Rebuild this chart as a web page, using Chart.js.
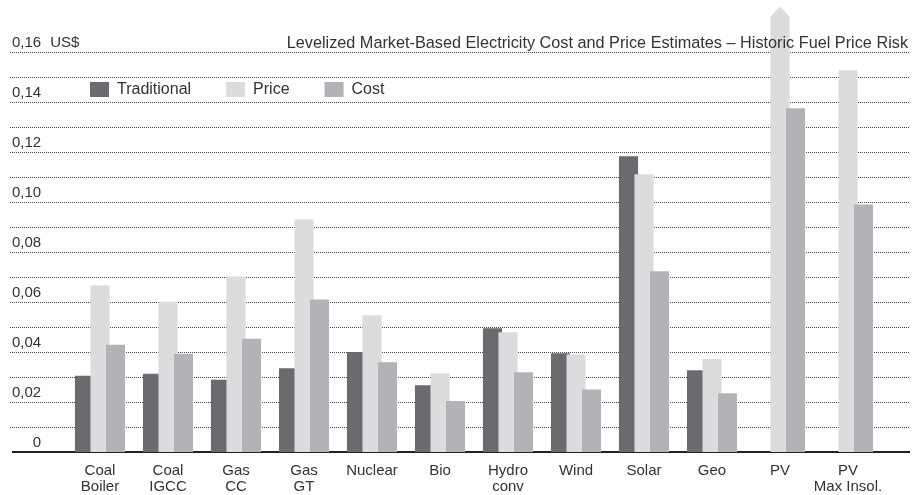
<!DOCTYPE html>
<html lang="en">

<head>
  <meta charset="UTF-8" />
  <title>Levelized Market-Based Electricity Cost and Price Estimates</title>
  <style>
    * {
      box-sizing: border-box;
      margin: 0;
      padding: 0;
    }

    html,
    body {
      width: 924px;
      height: 495px;
      background: #fff;
      overflow: hidden;
    }

    #wrap {
      position: relative;
      width: 924px;
      height: 495px;
    }
  </style>
  <script src="https://cdn.jsdelivr.net/npm/chart.js@4/dist/chart.umd.min.js"></script>
</head>

<body>
  <div id="wrap"><canvas id="chart"></canvas></div>

  <script>
    // Data
    const title = 'Levelized Market-Based Electricity Cost and Price Estimates – Historic Fuel Price Risk';
    const categories = [['Coal', 'Boiler'], ['Coal', 'IGCC'], ['Gas', 'CC'], ['Gas', 'GT'], 'Nuclear', 'Bio',
      ['Hydro', 'conv'], 'Wind', 'Solar', 'Geo', 'PV', ['PV', 'Max Insol.']];
    const traditional = [0.0305, 0.0313, 0.0289, 0.0335, 0.0400, 0.0267, 0.0495, 0.0395, 0.1183, 0.0327, null, null];
    const price = [0.0666, 0.0601, 0.0702, 0.0930, 0.0547, 0.0315, 0.0479, 0.0390, 0.1111, 0.0372, 0.1744, 0.1527];
    const cost = [0.0429, 0.0393, 0.0453, 0.0610, 0.0359, 0.0204, 0.0319, 0.0250, 0.0723, 0.0235, 0.1375, 0.0990];
    const yTickValues = [0, 0.02, 0.04, 0.06, 0.08, 0.10, 0.12, 0.14, 0.16];
    const yTickLabels = ['0', '0,02', '0,04', '0,06', '0,08', '0,10', '0,12', '0,14', '0,16'];
    const yUnit = 'US$';
    const yGridStep = 0.01;
    const yTop = 0.16;
    const offScale = ['PV']; // its Price bar runs past the top of the axis

    const FONT = '"Liberation Sans", Arial, Helvetica, sans-serif';
    const TEXT = '#333';

    // dotted grid, base line, re-ordered bars, arrow tip, unit, title, legend
    const decor = {
      id: 'decor',
      beforeDatasetsDraw(chart) {
        const { ctx, scales: { y } } = chart;
        ctx.save();
        ctx.strokeStyle = '#444';
        ctx.lineWidth = 1;
        ctx.setLineDash([1, 1]);
        for (let i = 1; i * yGridStep <= yTop + 1e-9; i++) {
          const py = Math.round(y.getPixelForValue(i * yGridStep)) + 0.5;
          ctx.beginPath();
          ctx.moveTo(10, py);
          ctx.lineTo(910, py);
          ctx.stroke();
        }
        ctx.setLineDash([]);
        ctx.strokeStyle = '#222';
        ctx.lineWidth = 2;
        const p0 = y.getPixelForValue(0);
        ctx.beginPath();
        ctx.moveTo(12, p0);
        ctx.lineTo(910, p0);
        ctx.stroke();
        ctx.restore();
      },
      // let later series overlap earlier ones, as in the print
      beforeDatasetDraw() {
        return false;
      },
      afterDatasetsDraw(chart) {
        const { ctx, scales: { y } } = chart;
        chart.data.datasets.forEach((ds, i) => chart.getDatasetMeta(i).controller.draw());

        const priceMeta = chart.getDatasetMeta(1);
        offScale.forEach(name => {
          const bar = priceMeta.data[categories.indexOf(name)];
          const half = bar.width / 2;
          ctx.save();
          ctx.fillStyle = chart.data.datasets[1].backgroundColor;
          ctx.beginPath();
          ctx.moveTo(bar.x - half, bar.y + 0.5);
          ctx.lineTo(bar.x, bar.y - half);
          ctx.lineTo(bar.x + half, bar.y + 0.5);
          ctx.closePath();
          ctx.fill();
          ctx.restore();
        });

        ctx.save();
        ctx.fillStyle = TEXT;
        ctx.font = '15px ' + FONT;
        ctx.textBaseline = 'middle';
        const topLabel = yTickLabels[yTickLabels.length - 1];
        ctx.fillText(yUnit, 12 + ctx.measureText(topLabel).width + 9, y.getPixelForValue(yTop) - 9);

        ctx.font = '16.25px ' + FONT;
        ctx.textAlign = 'right';
        ctx.textBaseline = 'alphabetic';
        ctx.fillText(title, 908, 48);

        ctx.font = '16px ' + FONT;
        ctx.textAlign = 'left';
        ctx.textBaseline = 'middle';
        let x = 90;
        chart.data.datasets.forEach(ds => {
          ctx.fillStyle = ds.backgroundColor;
          ctx.fillRect(x, 82, 19, 15);
          ctx.fillStyle = TEXT;
          ctx.fillText(ds.label, x + 27, 90);
          x += 27 + ctx.measureText(ds.label).width + 35;
        });
        ctx.restore();
      }
    };

    const common = { barPercentage: 1.23, categoryPercentage: 0.684 };

    new Chart(document.getElementById('chart'), {
      type: 'bar',
      data: {
        labels: categories,
        datasets: [
          { label: 'Traditional', data: traditional, backgroundColor: '#6b6b6f', ...common },
          { label: 'Price', data: price, backgroundColor: '#dcdcde', ...common },
          { label: 'Cost', data: cost, backgroundColor: '#b2b3b6', ...common }
        ]
      },
      options: {
        responsive: true,
        maintainAspectRatio: false,
        animation: false,
        layout: { padding: { left: 12, right: 42, top: 2, bottom: 0 } },
        scales: {
          x: {
            grid: { display: false, drawTicks: false },
            border: { display: false },
            ticks: {
              color: TEXT,
              font: { family: FONT, size: 15, lineHeight: 1.07 },
              padding: 11,
              maxRotation: 0,
              autoSkip: false
            },
            afterFit: s => { s.height = 43; s.paddingLeft = 0; s.paddingRight = 0; }
          },
          y: {
            min: 0,
            max: 0.18,
            grid: { display: false, drawTicks: false },
            border: { display: false },
            afterBuildTicks: s => { s.ticks = yTickValues.map(v => ({ value: v })); },
            afterFit: s => { s.width = 54; s.paddingTop = 0; s.paddingBottom = 0; },
            ticks: {
              color: TEXT,
              font: { family: FONT, size: 15 },
              crossAlign: 'far',
              labelOffset: -9,
              padding: 0,
              autoSkip: false,
              callback: (v, i) => (i === 0 ? '     ' : '') + yTickLabels[i]
            }
          }
        },
        plugins: {
          legend: { display: false },
          tooltip: { enabled: false }
        }
      },
      plugins: [decor]
    });
  </script>
</body>

</html>
